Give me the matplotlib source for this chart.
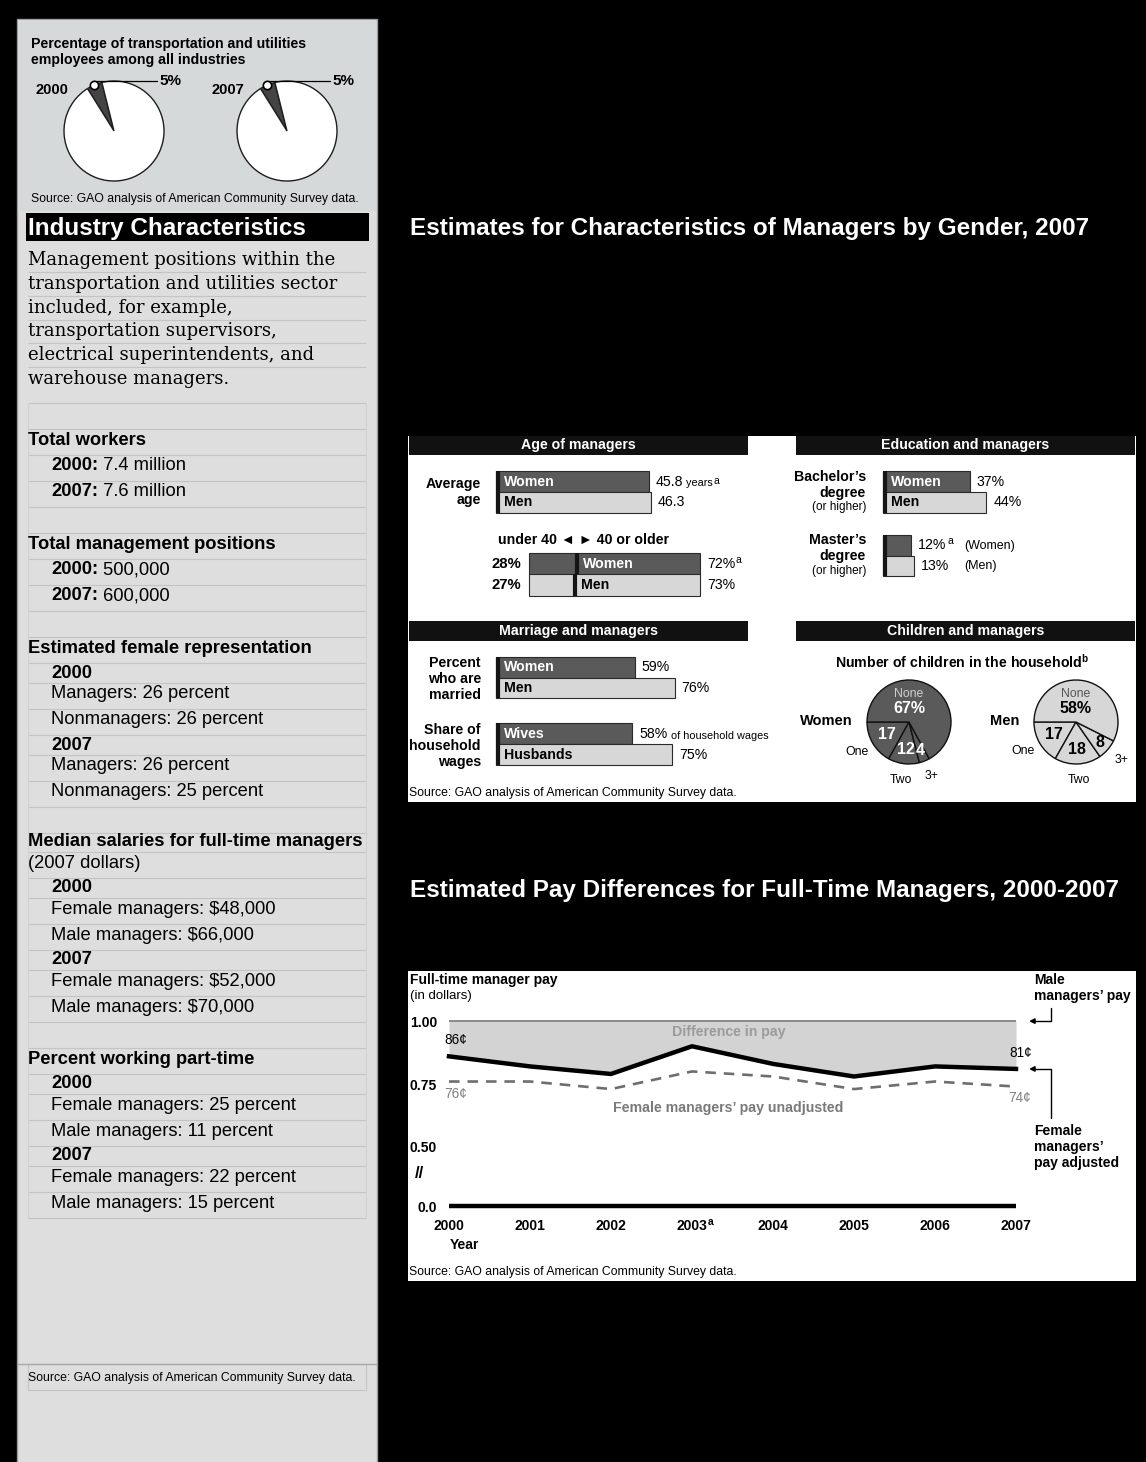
"""Transportation and utilities sector: characteristics of managers by gender."""

import matplotlib

matplotlib.use("Agg")

import matplotlib.pyplot as plt
import numpy as np
from matplotlib.patches import Rectangle

plt.rcParams["font.family"] = ["Liberation Sans", "DejaVu Sans"]
plt.rcParams["mathtext.fontset"] = "custom"
plt.rcParams["mathtext.rm"] = "Liberation Sans"
plt.rcParams["mathtext.bf"] = "Liberation Sans:bold"

W, H = 1146, 1462

DARK = "#5a5a5a"
LIGHT = "#d7d7d7"
EDGE = "#2a2a2a"
RULE = "#c4c4c4"
SOURCE = "Source: GAO analysis of American Community Survey data."
COL = 13.2   # text size in the left column
LBL = 10.2   # label size in the chart panels

# sector share of all employees
SHARE_YEARS = ["2000", "2007"]
SHARE_PCT = [5, 5]

INTRO = [
    "Management positions within the",
    "transportation and utilities sector",
    "included, for example,",
    "transportation supervisors,",
    "electrical superintendents, and",
    "warehouse managers.",
]

# industry characteristics column
YEARS_COMPARED = ["2000", "2007"]
TOTAL_WORKERS = [7.4, 7.6]  # millions
MGMT_POSITIONS = [500000, 600000]
FEMALE_SHARE_MANAGERS = [26, 26]
FEMALE_SHARE_NONMANAGERS = [26, 25]
SALARY_FEMALE = [48000, 52000]
SALARY_MALE = [66000, 70000]
PART_TIME_FEMALE = [25, 22]
PART_TIME_MALE = [11, 15]

# manager characteristics, 2007
GENDERS = ["Women", "Men"]
AVG_AGE = [45.8, 46.3]
UNDER_40 = [28, 27]
OVER_40 = [72, 73]
BACHELORS = [37, 44]
MASTERS = [12, 13]
MARRIED = [59, 76]
SPOUSES = ["Wives", "Husbands"]
WAGE_SHARE = [58, 75]
CHILD_CATS = ["One", "Two", "3+", "None"]
CHILDREN_WOMEN = [17, 12, 4, 67]
CHILDREN_MEN = [17, 18, 8, 58]

# pay of female managers per dollar of male managers' pay
YEARS = [2000, 2001, 2002, 2003, 2004, 2005, 2006, 2007]
MALE_PAY = [1.00, 1.00, 1.00, 1.00, 1.00, 1.00, 1.00, 1.00]
FEMALE_ADJUSTED = [0.86, 0.82, 0.79, 0.90, 0.83, 0.78, 0.82, 0.81]
FEMALE_UNADJUSTED = [0.76, 0.76, 0.73, 0.80, 0.78, 0.73, 0.76, 0.74]

fig = plt.figure(figsize=(W / 100, H / 100), dpi=100, facecolor="black")


def canvas(zorder):
    ax = fig.add_axes([0, 0, 1, 1], zorder=zorder)
    ax.set_xlim(0, W)
    ax.set_ylim(H, 0)
    ax.axis("off")
    return ax


def px_axes(x0, y0, x1, y1):
    ax = fig.add_axes([x0 / W, 1 - y1 / H, (x1 - x0) / W, (y1 - y0) / H], zorder=5)
    ax.set_facecolor("none")
    return ax


bg = canvas(0)
fg = canvas(20)


def txt(x, y, s, size=LBL, bold=False, **kw):
    kw.setdefault("va", "center")
    return fg.text(x, y, s, fontsize=size, fontweight="bold" if bold else "normal", **kw)


def after(prev, s, size, bold=False, color="black"):
    return fg.annotate(s, xy=(1, 0), xycoords=prev, ha="left", va="bottom",
                       fontsize=size, fontweight="bold" if bold else "normal", color=color)


def sup(prev, s, size=7.5, bold=False):
    return fg.annotate(s, xy=(1, 1), xycoords=prev, xytext=(0.5, 1.5),
                       textcoords="offset points", ha="left", va="top", fontsize=size,
                       fontweight="bold" if bold else "normal")


# ---------------- left column ----------------
bg.add_patch(Rectangle((17, 19), 360, H, facecolor="#dedede", edgecolor="#9c9c9c", lw=1))
bg.add_patch(Rectangle((18, 20), 358, 191, facecolor="#d5d9d9", lw=0))

txt(31, 44, "Percentage of transportation and utilities", 10.2, bold=True)
txt(31, 60, "employees among all industries", 10.2, bold=True)

for i, (year, pct) in enumerate(zip(SHARE_YEARS, SHARE_PCT)):
    cx, cy, r, pad = 114 + i * 173, 131, 50, 1.06
    ax = px_axes(cx - r * pad, cy - r * pad, cx + r * pad, cy + r * pad)
    start = 104
    ax.pie([pct, 100 - pct], colors=["#444444", "white"], startangle=start,
           counterclock=True, wedgeprops=dict(edgecolor="#1e1e1e", linewidth=1))
    ax.set_xlim(-pad, pad)
    ax.set_ylim(-pad, pad)
    mid = np.deg2rad(start + pct * 3.6 / 2)
    mx, my = np.cos(mid), np.sin(mid)
    ax.plot(mx, my, marker="o", ms=6, mfc="white", mec="black", mew=1.2, clip_on=False, zorder=5)
    ax.annotate(f"{pct}%", xy=(mx, my), xytext=(47, 3), textcoords="offset points",
                fontsize=11, fontweight="bold", ha="left", va="center",
                arrowprops=dict(arrowstyle="-", connectionstyle="angle,angleA=0,angleB=90,rad=0",
                                lw=0.9, color="black", shrinkA=0, shrinkB=3))
    txt(35 + i * 177, 90, year, 10.5, bold=True)

txt(31, 199, SOURCE, 8.8)

bg.add_patch(Rectangle((26, 213), 343, 28, facecolor="black", lw=0))
txt(28, 228, "Industry Characteristics", 17.5, bold=True, color="white")

for i, line in enumerate(INTRO):
    txt(28, 260 + i * 23.8, line, 13, family="DejaVu Serif")
    if i < len(INTRO) - 1:
        bg.hlines(272 + i * 23.8, 28, 366, color=RULE, lw=0.8)

rows = [("blank", None), ("head", "Total workers")]
rows += [("pair", (yr, f"{v} million")) for yr, v in zip(YEARS_COMPARED, TOTAL_WORKERS)]
rows += [("blank", None), ("head", "Total management positions")]
rows += [("pair", (yr, f"{v:,}")) for yr, v in zip(YEARS_COMPARED, MGMT_POSITIONS)]
rows += [("blank", None), ("head", "Estimated female representation")]
for yr, m, n in zip(YEARS_COMPARED, FEMALE_SHARE_MANAGERS, FEMALE_SHARE_NONMANAGERS):
    rows += [("year", yr), ("item", f"Managers: {m} percent"), ("item", f"Nonmanagers: {n} percent")]
rows += [("blank", None), ("head_tight", "Median salaries for full-time managers"),
         ("note", "(2007 dollars)")]
for yr, f, m in zip(YEARS_COMPARED, SALARY_FEMALE, SALARY_MALE):
    rows += [("year", yr), ("item", rf"Female managers: \${f:,}"), ("item", rf"Male managers: \${m:,}")]
rows += [("blank", None), ("head", "Percent working part-time")]
for yr, f, m in zip(YEARS_COMPARED, PART_TIME_FEMALE, PART_TIME_MALE):
    rows += [("year", yr), ("item", f"Female managers: {f} percent"),
             ("item", f"Male managers: {m} percent")]

ROW_H = {"blank": 26, "head": 26, "head_tight": 19, "note": 26, "pair": 26, "item": 26, "year": 20}
y = 403
bg.hlines(y, 28, 366, color=RULE, lw=0.8)
top = y
for kind, content in rows:
    h = ROW_H[kind]
    mid = y + h / 2 - 2
    if kind in ("head", "head_tight"):
        txt(28, y + h / 2 - 1.5, content, COL, bold=True)
    elif kind == "note":
        txt(28, mid, content, COL)
    elif kind == "year":
        txt(51, y + h / 2, content, COL, bold=True)
    elif kind == "pair":
        t = txt(51, mid, f"{content[0]}:", COL, bold=True)
        after(t, " " + content[1], COL)
    elif kind == "item":
        txt(51, mid, content, COL)
    y += h
    bg.hlines(y, 28, 366, color=RULE, lw=0.8)
bg.vlines([28, 366], top, y, color="#d2d2d2", lw=0.8)

bg.hlines(1364, 17, 377, color="#a8a8a8", lw=1)
bg.add_patch(Rectangle((28, 1364), 338, 26, fill=False, edgecolor=RULE, lw=0.8))
txt(28, 1378, SOURCE, 8.8)

# ---------------- manager characteristics ----------------
txt(410, 229, "Estimates for Characteristics of Managers by Gender, 2007", 17.5, bold=True, color="white")
bg.add_patch(Rectangle((408, 436), 728, 366, facecolor="white", lw=0))


def header(x0, x1, y0, y1, title):
    bg.add_patch(Rectangle((x0, y0), x1 - x0, y1 - y0, facecolor="#111111", lw=0))
    txt((x0 + x1) / 2, (y0 + y1) / 2, title, LBL, bold=True, color="white", ha="center")


header(409, 748, 436, 455, "Age of managers")
header(796, 1135, 436, 455, "Education and managers")
header(409, 748, 621, 641, "Marriage and managers")
header(796, 1135, 621, 641, "Children and managers")


def pair_axes(x0, y0, y1, unit_px, span_px=260):
    ax = px_axes(x0, y0, x0 + span_px, y1)
    ax.set_xlim(0, span_px / unit_px)
    ax.set_ylim(1.5, -0.5)
    ax.axis("off")
    return ax, 1 / unit_px


def draw_pair(ax, values, left=0):
    bars = ax.barh([0, 1], values, left=left, height=1, color=[DARK, LIGHT],
                   edgecolor=EDGE, linewidth=0.8)
    for b in bars:
        b.set_clip_on(False)


def stripe(ax, u):
    ax.vlines(1.5 * u, -0.5, 1.5, color="#151515", lw=3, clip_on=False)


def names_inside(ax, u, names, left=(0, 0), offset=8):
    for row, name in enumerate(names):
        ax.text(left[row] + offset * u, row, name, color="white" if row == 0 else "black",
                fontsize=LBL, fontweight="bold", va="center")


# age
txt(481, 492, "Average\nage", LBL, bold=True, ha="right", linespacing=1.2)
ax, u = pair_axes(496, 471, 513, 3.34)
draw_pair(ax, AVG_AGE)
stripe(ax, u)
names_inside(ax, u, GENDERS)
t = ax.text(AVG_AGE[0] + 7 * u, 0, f"{AVG_AGE[0]}", fontsize=LBL, va="center")
sup(after(t, " years", 7.8), "a")
ax.text(AVG_AGE[1] + 7 * u, 1, f"{AVG_AGE[1]}", fontsize=LBL, va="center")

txt(583, 540, "under 40 \u25c4 \u25ba 40 or older", LBL, bold=True, ha="center")
ax, u = pair_axes(529, 553, 596, 1.71, 200)
draw_pair(ax, UNDER_40)
draw_pair(ax, OVER_40, left=UNDER_40)
names_inside(ax, u, GENDERS, left=UNDER_40, offset=6)
for row in range(2):
    ax.vlines(UNDER_40[row], row - 0.5, row + 0.5, color="#151515", lw=3)
    ax.text(-8 * u, row, f"{UNDER_40[row]}%", ha="right", va="center", fontsize=10.7, fontweight="bold")
    t = ax.text(UNDER_40[row] + OVER_40[row] + 7 * u, row, f"{OVER_40[row]}%", fontsize=LBL, va="center")
    if row == 0:
        sup(t, "a")

# education
txt(866, 477, "Bachelor\u2019s", LBL, bold=True, ha="right")
txt(866, 493, "degree", LBL, bold=True, ha="right")
txt(866, 507, "(or higher)", 8.5, ha="right")
ax, u = pair_axes(883, 471, 513, 2.35)
draw_pair(ax, BACHELORS)
stripe(ax, u)
names_inside(ax, u, GENDERS)
for row, v in enumerate(BACHELORS):
    ax.text(v + 7 * u, row, f"{v}%", fontsize=LBL, va="center")

txt(866, 540, "Master\u2019s", LBL, bold=True, ha="right")
txt(866, 556, "degree", LBL, bold=True, ha="right")
txt(866, 571, "(or higher)", 8.5, ha="right")
ax, u = pair_axes(883, 535, 576, 2.35)
draw_pair(ax, MASTERS)
stripe(ax, u)
for row, v in enumerate(MASTERS):
    t = ax.text(v + 7 * u, row, f"{v}%", fontsize=LBL, va="center")
    if row == 0:
        sup(t, "a")
    txt(964, 545.5 + row * 20.5, f"({GENDERS[row]})", 9)

# marriage
txt(481, 679, "Percent\nwho are\nmarried", LBL, bold=True, ha="right", linespacing=1.15)
ax, u = pair_axes(496, 657, 698, 2.35)
draw_pair(ax, MARRIED)
stripe(ax, u)
names_inside(ax, u, GENDERS)
for row, v in enumerate(MARRIED):
    ax.text(v + 7 * u, row, f"{v}%", fontsize=LBL, va="center")

txt(481, 746, "Share of\nhousehold\nwages", LBL, bold=True, ha="right", linespacing=1.15)
ax, u = pair_axes(496, 723, 765, 2.35)
draw_pair(ax, WAGE_SHARE)
stripe(ax, u)
names_inside(ax, u, SPOUSES)
for row, v in enumerate(WAGE_SHARE):
    t = ax.text(v + 7 * u, row, f"{v}%", fontsize=LBL, va="center")
    if row == 0:
        after(t, " of household wages", 7.8)

txt(409, 793, SOURCE, 8.8)

# children
txt(962, 662, r"Number of children in the household$^{\mathbf{b}}$", LBL, bold=True, ha="center")


def child_pie(cx, cy, r, values, color, ink, soft):
    pad = 1.05
    ax = px_axes(cx - r * pad, cy - r * pad, cx + r * pad, cy + r * pad)
    ax.pie(values, colors=[color] * len(values), startangle=180, counterclock=True,
           wedgeprops=dict(edgecolor="#111111", linewidth=1))
    ax.set_xlim(-pad, pad)
    ax.set_ylim(-pad, pad)
    frac = np.array(values) / sum(values)
    mids = np.deg2rad(180 + 360 * (np.cumsum(frac) - frac / 2))
    for k, radius in zip(range(3), [0.6, 0.66, 0.74]):
        ax.text(radius * np.cos(mids[k]), radius * np.sin(mids[k]), f"{values[k]}",
                color=ink, fontsize=11.5, fontweight="bold", ha="center", va="center")
        ax.text(1.45 * np.cos(mids[k]), 1.38 * np.sin(mids[k]), CHILD_CATS[k],
                fontsize=8.8, ha="center", va="center")
    ax.text(0, 0.66, CHILD_CATS[3], color=soft, fontsize=8.8, ha="center", va="center")
    ax.text(0, 0.32, f"{values[3]}%", color=ink, fontsize=11.5, fontweight="bold", ha="center", va="center")


child_pie(909, 722, 42, CHILDREN_WOMEN, DARK, "white", "#d0d0d0")
child_pie(1076, 722, 42, CHILDREN_MEN, LIGHT, "black", "#555555")
txt(800, 721, GENDERS[0], 10.5, bold=True)
txt(990, 721, GENDERS[1], 10.5, bold=True)

# ---------------- pay differences ----------------
txt(410, 890, "Estimated Pay Differences for Full-Time Managers, 2000-2007", 17.5, bold=True, color="white")
bg.add_patch(Rectangle((408, 971), 728, 310, facecolor="white", lw=0))

txt(410, 980, "Full-time manager pay", 10, bold=True)
txt(410, 996, "(in dollars)", 9.5)

upper = px_axes(449, 1006, 1016, 1152)
upper.set_xlim(YEARS[0], YEARS[-1])
upper.set_ylim(0.48, 1.06)
upper.fill_between(YEARS, FEMALE_ADJUSTED, MALE_PAY, color="#d3d3d3", lw=0)
upper.plot(YEARS, MALE_PAY, color="#777777", lw=1.2)
upper.plot(YEARS, FEMALE_UNADJUSTED, color="#6e6e6e", lw=1.9, dashes=(4, 3), clip_on=False)
upper.plot(YEARS, FEMALE_ADJUSTED, color="black", lw=3.2, clip_on=False)
for s in upper.spines.values():
    s.set_visible(False)
upper.set_xticks([])
upper.set_yticks([0.5, 0.75, 1.0], ["0.50", "0.75", "1.00"], fontweight="bold", fontsize=10)
upper.tick_params(axis="y", length=0, pad=8.6)

cents = lambda v: f"{round(v * 100)}\u00a2"
upper.annotate(cents(FEMALE_ADJUSTED[0]), xy=(YEARS[0], FEMALE_ADJUSTED[0]), xytext=(-3.6, 11.5),
               textcoords="offset points", ha="left", va="center", fontsize=9.8)
upper.annotate(cents(FEMALE_UNADJUSTED[0]), xy=(YEARS[0], FEMALE_UNADJUSTED[0]), xytext=(-3.6, -9),
               textcoords="offset points", ha="left", va="center", fontsize=9.8, color="#808080")
upper.annotate(cents(FEMALE_ADJUSTED[-1]), xy=(YEARS[-1], FEMALE_ADJUSTED[-1]), xytext=(11.5, 11.4),
               textcoords="offset points", ha="right", va="center", fontsize=9.8)
upper.annotate(cents(FEMALE_UNADJUSTED[-1]), xy=(YEARS[-1], FEMALE_UNADJUSTED[-1]), xytext=(10.8, -8.4),
               textcoords="offset points", ha="right", va="center", fontsize=9.8, color="#808080")
upper.text(np.mean(YEARS) - 0.05, 0.956, "Difference in pay", ha="center", va="center",
           fontsize=10.2, fontweight="bold", color="#9b9b9b")
upper.text(np.mean(YEARS) - 0.05, 0.654, "Female managers\u2019 pay unadjusted", ha="center", va="center",
           fontsize=10.2, fontweight="bold", color="#7a7a7a")

arrow = dict(arrowstyle="-|>", connectionstyle="angle,angleA=90,angleB=0,rad=0",
             shrinkA=0, shrinkB=9.4, lw=1, color="black", mutation_scale=8)
upper.annotate("", xy=(YEARS[-1], MALE_PAY[-1]), xytext=(25.2, 9.4), textcoords="offset points",
               arrowprops=arrow, annotation_clip=False)
upper.annotate("", xy=(YEARS[-1], FEMALE_ADJUSTED[-1]), xytext=(25.2, -35.3), textcoords="offset points",
               arrowprops=arrow, annotation_clip=False)
txt(1034, 980, "Male", 10, bold=True)
txt(1034, 996, "managers\u2019 pay", 10, bold=True)
txt(1034, 1131, "Female", 10, bold=True)
txt(1034, 1147, "managers\u2019", 10, bold=True)
txt(1034, 1163, "pay adjusted", 10, bold=True)

lower = px_axes(449, 1196, 1016, 1216)
lower.set_xlim(YEARS[0], YEARS[-1])
lower.set_ylim(-1, 1)
lower.hlines(0, YEARS[0], YEARS[-1], color="black", lw=3.2, clip_on=False)
for s in lower.spines.values():
    s.set_visible(False)
lower.set_yticks([0], ["0.0"], fontweight="bold", fontsize=10)
lower.set_xticks(YEARS, [str(yr) for yr in YEARS], fontweight="bold", fontsize=10)
lower.tick_params(length=0)
lower.tick_params(axis="y", pad=8.6)
lower.tick_params(axis="x", pad=2.5)
sup(lower.xaxis.get_major_ticks()[YEARS.index(2003)].label1, "a", 7.5, bold=True)

txt(419, 1173, "//", 12, bold=True, ha="center")
txt(450, 1245, "Year", 10, bold=True)
txt(409, 1272, SOURCE, 8.8)

fig.savefig("out.png", dpi=100, facecolor="black")
